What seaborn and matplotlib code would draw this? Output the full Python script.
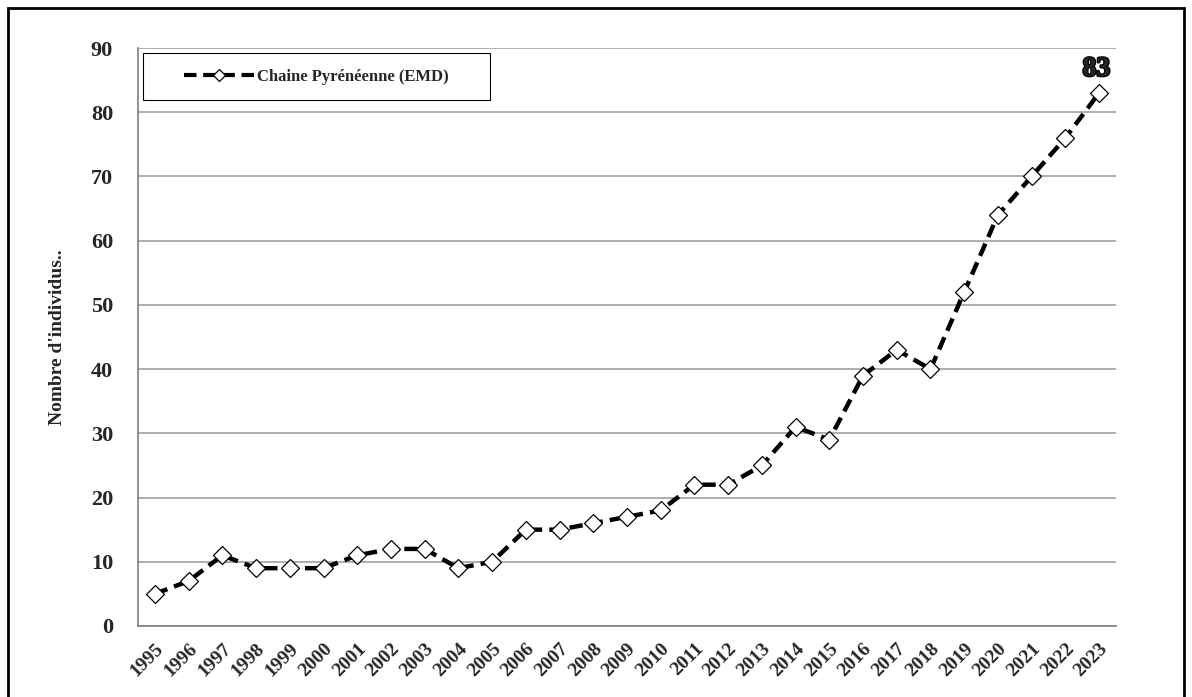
import pandas as pd
import matplotlib.pyplot as plt
import matplotlib.patheffects as pe
import seaborn as sns
from matplotlib.patches import Rectangle

# Données
annees = [str(a) for a in range(1995, 2024)]
individus = [5, 7, 11, 9, 9, 9, 11, 12, 12, 9, 10, 15, 15, 16, 17, 18,
             22, 22, 25, 31, 29, 39, 43, 40, 52, 64, 70, 76, 83]
serie = "Chaine Pyrénéenne (EMD)"

df = pd.DataFrame({"Annee": annees, "Individus": individus})

sns.set_style("white")
plt.rcParams['font.family'] = ['Liberation Serif', 'DejaVu Serif']
plt.rcParams['font.weight'] = 'bold'

fig = plt.figure(figsize=(11.92, 6.97), dpi=100)
ax = fig.add_axes([0.1158, 0.1019, 0.8204, 0.8292])

sns.lineplot(data=df, x="Annee", y="Individus", ax=ax, color="black",
             linestyle=(0, (3, 1.6)), linewidth=3.2, marker="D",
             markersize=9.5, markerfacecolor="white", markeredgecolor="black",
             markeredgewidth=0.9, label=serie, sort=False)

n = len(annees)
ax.set_xlim(-0.5, n - 0.5)
ax.set_ylim(0, 90)
ax.set_yticks(range(0, 91, 10))
ax.yaxis.grid(True, color="#a0a0a0", linewidth=1.2)
ax.set_axisbelow(True)

# graduations entre les catégories (style Excel)
ax.set_xticks(range(n))
ax.set_xticklabels(annees, rotation=45, ha="right", rotation_mode="anchor",
                   fontsize=14, fontweight="bold")
ax.set_xticks([i - 0.5 for i in range(n + 1)], minor=True)
ax.tick_params(axis="x", which="major", length=0, pad=10)
ax.tick_params(axis="x", which="minor", length=6, color="#808080", width=1.2)
ax.tick_params(axis="y", length=6, color="#808080", width=1.2, labelsize=16, pad=12)
for lab in ax.get_yticklabels():
    lab.set_fontweight("bold")

for s in ["top", "right"]:
    ax.spines[s].set_visible(False)
for s in ["left", "bottom"]:
    ax.spines[s].set_color("#808080")
    ax.spines[s].set_linewidth(1.2)

ax.set_xlabel("")
ax.set_ylabel("Nombre d'individus..", fontsize=14, fontweight="bold", labelpad=18)

# étiquette de la dernière valeur
ax.annotate(str(individus[-1]), (n - 1, individus[-1]), xytext=(-2, 8),
            textcoords="offset points", ha="center", va="bottom",
            fontsize=20, fontweight="bold",
            path_effects=[pe.withStroke(linewidth=1.8, foreground="black")])

# légende centrée dans un cadre
cadre = (0.005, 0.91, 0.355, 0.081)
ax.add_patch(Rectangle(cadre[:2], cadre[2], cadre[3], transform=ax.transAxes,
                       fill=True, facecolor="white", edgecolor="black",
                       linewidth=0.8, zorder=4))
leg = ax.legend(loc="center", bbox_to_anchor=cadre, frameon=False,
                prop={"size": 12, "weight": "bold"}, handlelength=4.2,
                handletextpad=0.2, borderaxespad=0)
leg.set_zorder(5)
for h in leg.legend_handles:
    h.set_markersize(6)
    h.set_linewidth(3)

# cadre extérieur
fig.patches.append(Rectangle((8 / 1192, -0.02), 1176 / 1192, 1 - 8 / 697 + 0.02,
                             transform=fig.transFigure, fill=False,
                             edgecolor="black", linewidth=2))

fig.savefig("out.png", dpi=100)
